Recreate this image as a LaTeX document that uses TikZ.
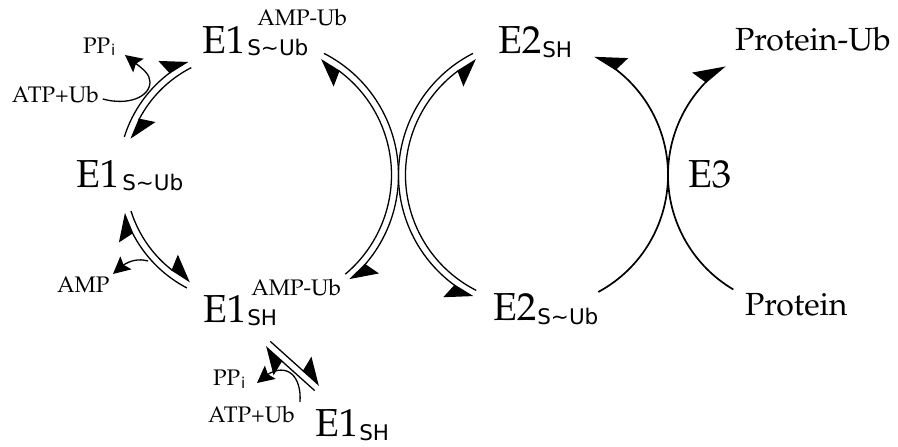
\documentclass[tikz,border=0pt]{standalone}
\usepackage[T1]{fontenc}
\usepackage{fontspec}
\usetikzlibrary{arrows.meta,bending}
\newfontfamily\djsans{DejaVu Sans}
\newcommand\palfont{\fontencoding{T1}\fontfamily{ppl}\selectfont}
\newcommand\fbig{\palfont\fontsize{39}{40}\selectfont}
\newcommand\fmid{\palfont\fontsize{32}{34}\selectfont}
\newcommand\fsmall{\palfont\fontsize{22.5}{24}\selectfont}
\newcommand\fsub{\djsans\fontsize{21.5}{22}\selectfont}
\newcommand\fisub{\djsans\fontsize{15}{16}\selectfont}
\newcommand\tld{\textasciitilde}
\tikzset{
  lbl/.style={inner sep=0pt, outer sep=0pt, anchor=base west},
  dbl/.style={line width=1.3pt},
  sgl/.style={line width=1.7pt},
  hl/.style={-{Stealth[left,length=24pt,width=32pt,inset=3pt]}},
  hr/.style={-{Stealth[right,length=24pt,width=32pt,inset=3pt]}},
  side/.style={line width=1.3pt,-{Stealth[length=17pt,width=17pt,inset=3pt]}},
}
\begin{document}
\begin{tikzpicture}[x=1pt,y=1pt]
\useasboundingbox (0,0) rectangle (898,-447);
\fill[white] (0,0) rectangle (898,-447);

% centres of the cycles
\coordinate (C1) at (246,-175);
\coordinate (C2) at (262,-175);
\coordinate (C3) at (535,-175);
\coordinate (C4) at (801,-175);

% text
\node[lbl] (e1a) at (202,-53) {\fbig E1};
\node[lbl] (e1asub) at ([xshift=2pt,yshift=-2pt]e1a.base east) {\fsub S\tld Ub};
\node[lbl] (e1asup) at ([xshift=12pt,yshift=28pt]e1a.base east) {\fsmall AMP-Ub};

\node[lbl] (e1b) at (76,-187) {\fbig E1};
\node[lbl] (e1bsub) at ([xshift=3pt,yshift=-3pt]e1b.base east) {\fsub S\tld Ub};

\node[lbl] (e1c) at (203,-322) {\fbig E1};
\node[lbl] (e1csub) at ([xshift=1pt,yshift=-3pt]e1c.base east) {\fsub SH};
\node[lbl] (e1csup) at ([xshift=5pt,yshift=27pt]e1c.base east) {\fsmall AMP-Ub};

\node[lbl] (e1d) at (315,-436) {\fbig E1};
\node[lbl] (e1dsub) at ([xshift=1pt,yshift=-4pt]e1d.base east) {\fsub SH};

\node[lbl] (e2a) at (498,-53) {\fbig E2};
\node[lbl] (e2asub) at ([xshift=1pt,yshift=-4pt]e2a.base east) {\fsub SH};

\node[lbl] (e2b) at (493,-320) {\fbig E2};
\node[lbl] (e2bsub) at ([xshift=1pt,yshift=-4pt]e2b.base east) {\fsub S\tld Ub};

\node[lbl] (e3) at (688,-187) {\fbig E3};
\node[lbl] (pub) at (735,-50) {\fmid Protein-Ub};
\node[lbl] (prot) at (745,-315) {\fmid Protein};

\node[lbl] (pp1) at (83,-53) {\fsmall PP};
\node[lbl] (pp1i) at ([xshift=1pt,yshift=-3pt]pp1.base east) {\fisub i};
\node[lbl] (atp1) at (12,-102) {\fsmall ATP+Ub};
\node[lbl] (amp) at (57,-292) {\fsmall AMP};
\node[lbl] (pp2) at (213,-385) {\fsmall PP};
\node[lbl] (pp2i) at ([xshift=1pt,yshift=-3pt]pp2.base east) {\fisub i};
\node[lbl] (atp2) at (208,-422) {\fsmall ATP+Ub};

% free ends of the side arrows
\coordinate (s1) at ([xshift=4pt,yshift=3pt]atp1.base east);
\coordinate (t1) at (125,-55);
\coordinate (s2) at (148,-261);
\coordinate (t2) at (113,-274);
\coordinate (s3) at (300,-402);
\coordinate (t3) at (257,-383);

% E1 cycle, left side
\draw[dbl,hl] ([shift={(162.6:127.5pt)}]C1) arc[start angle=162.6,end angle=117,radius=127.5pt];
\draw[dbl,hl] ([shift={(117:120.5pt)}]C1) arc[start angle=117,end angle=162.6,radius=120.5pt];
\draw[dbl,hl] ([shift={(242.4:127.5pt)}]C1) arc[start angle=242.4,end angle=197.4,radius=127.5pt];
\draw[dbl,hl] ([shift={(197.4:120.5pt)}]C1) arc[start angle=197.4,end angle=242.4,radius=120.5pt];

% E1 cycle, right side (crossing)
\draw[dbl,hl] ([shift={(-50:129.5pt)}]C2) arc[start angle=-50,end angle=63,radius=129.5pt];
\draw[dbl,hl] ([shift={(63:136.5pt)}]C2) arc[start angle=63,end angle=-50,radius=136.5pt];

% E2 cycle, left side (crossing)
\draw[dbl,hr] ([shift={(243:129.5pt)}]C3) arc[start angle=243,end angle=117,radius=129.5pt];
\draw[dbl,hr] ([shift={(117:136.5pt)}]C3) arc[start angle=117,end angle=243,radius=136.5pt];

% E3
\draw[sgl,-{Stealth[right,length=28pt,width=32pt,inset=4pt]}] ([shift={(-61.6:133pt)}]C3) arc[start angle=-61.6,end angle=63.4,radius=133pt];
\draw[sgl,-{Stealth[left,length=28pt,width=32pt,inset=4pt]}] ([shift={(239.4:133pt)}]C4) arc[start angle=239.4,end angle=124.8,radius=133pt];

% E1 activation step
\draw[dbl,hl] (270.3,-341.4) -- (319.3,-385.4);
\draw[dbl,hl] (314.7,-390.6) -- (265.7,-346.6);

% side arrows
\draw[side] (s1) .. controls (128,-106) and (150,-97) .. (150,-82)
                 .. controls (150,-71) and (135,-64) .. (t1);
\draw[side] (s2) .. controls (134,-257) and (122,-264) .. (t2);
\draw[side] (s3) .. controls (302,-372) and (282,-358) .. (t3);
\end{tikzpicture}
\end{document}
